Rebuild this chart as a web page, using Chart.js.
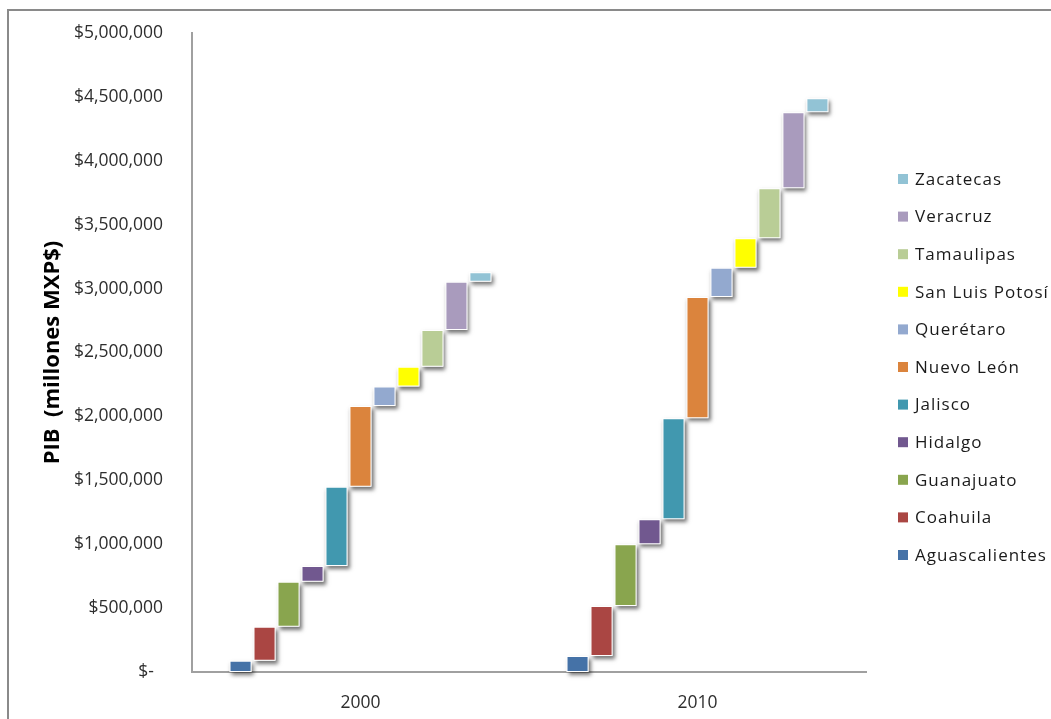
<!DOCTYPE html>
<html lang="es">
<head>
<meta charset="utf-8">
<title>PIB por estado, 2000 y 2010</title>
<script src="https://cdn.jsdelivr.net/npm/chart.js@4.4.1/dist/chart.umd.min.js"></script>
<style>
  html, body { margin: 0; padding: 0; background: #ffffff; }
  #lienzo { position: absolute; left: 0; top: 0; width: 1051px; height: 719px; }
</style>
</head>
<body>
<div id="lienzo"><canvas id="grafica" width="1051" height="719"></canvas></div>
<script>
// Años comparados
const categorias = ['2000', '2010'];

// Estados (en el orden en que se acumulan)
const estados = [
  'Aguascalientes', 'Coahuila', 'Guanajuato', 'Hidalgo', 'Jalisco',
  'Nuevo León', 'Querétaro', 'San Luis Potosí', 'Tamaulipas', 'Veracruz', 'Zacatecas'
];

// PIB de cada estado, millones de MXP$
const pib2000 = [88000, 267000, 352000, 122000, 621000, 631000, 152000, 156000, 287000, 378000, 74000];
const pib2010 = [125000, 391000, 483000, 196000, 790000, 949000, 230000, 230000, 391000, 595000, 109000];

// Color de cada estado
const colores = [
  '#4572A7', '#AA4643', '#89A54E', '#71588F', '#4198AF',
  '#DB843D', '#93A9CF', '#FFFF00', '#B9CD96', '#A99BBD', '#92C3D5'
];

// Eje Y: mínimo, máximo y paso
const ejeY = [0, 5000000, 500000];

// Cascada: cada barra empieza donde termina la anterior
function tramos(valores) {
  let acumulado = 0;
  return valores.map(v => {
    const inicio = acumulado;
    acumulado += v;
    return [inicio, acumulado];
  });
}
const tramos2000 = tramos(pib2000);
const tramos2010 = tramos(pib2010);

const datasets = estados.map((nombre, i) => ({
  label: nombre,
  data: [tramos2000[i], tramos2010[i]],
  backgroundColor: colores[i],
  borderColor: '#ffffff',
  borderWidth: 1,
  borderSkipped: false
}));

const fuente = "'Open Sans', 'DejaVu Sans', sans-serif";

// Marco gris superior e izquierdo
const marco = {
  id: 'marco',
  beforeDraw(chart) {
    const ctx = chart.ctx;
    ctx.save();
    ctx.strokeStyle = '#8a8a8a';
    ctx.lineWidth = 2;
    ctx.beginPath();
    ctx.moveTo(8, chart.height);
    ctx.lineTo(8, 10);
    ctx.lineTo(chart.width, 10);
    ctx.stroke();
    ctx.restore();
  }
};

// Sombra difusa bajo cada barra
const sombras = {
  id: 'sombras',
  beforeDatasetsDraw(chart) {
    const ctx = chart.ctx;
    ctx.save();
    ctx.shadowColor = 'rgba(0,0,0,0.55)';
    ctx.shadowBlur = 4;
    ctx.shadowOffsetX = 2;
    ctx.shadowOffsetY = 3;
    ctx.fillStyle = '#ffffff';
    chart.data.datasets.forEach((ds, i) => {
      chart.getDatasetMeta(i).data.forEach(bar => {
        const p = bar.getProps(['x', 'y', 'base', 'width'], true);
        const top = Math.min(p.y, p.base);
        const h = Math.abs(p.base - p.y);
        ctx.fillRect(p.x - p.width / 2, top, p.width, h);
      });
    });
    ctx.restore();
  }
};

// Leyenda a la derecha, de arriba (último estado) hacia abajo
const leyenda = {
  id: 'leyenda',
  afterDraw(chart, args, opts) {
    const ctx = chart.ctx;
    const area = chart.chartArea;
    const items = chart.data.datasets.map((ds, i) => ({ texto: ds.label, color: ds.backgroundColor })).reverse();
    ctx.save();
    ctx.font = '17px ' + fuente;
    ctx.letterSpacing = '1px';
    ctx.textBaseline = 'middle';
    ctx.textAlign = 'left';
    items.forEach((it, k) => {
      const yc = opts.top + k * opts.paso;
      ctx.fillStyle = it.color;
      ctx.fillRect(area.right + opts.sangria, yc - 5, 10, 10);
      ctx.fillStyle = '#1a1a1a';
      ctx.fillText(it.texto, area.right + opts.sangria + 17, yc + 1);
    });
    ctx.restore();
  }
};

new Chart(document.getElementById('grafica'), {
  type: 'bar',
  data: { labels: categorias, datasets },
  plugins: [marco, sombras, leyenda],
  options: {
    responsive: false,
    animation: false,
    layout: { padding: { left: 0, top: 33, right: 185, bottom: 0 } },
    datasets: { bar: { categoryPercentage: 0.783, barPercentage: 0.92 } },
    plugins: {
      legend: { display: false },
      tooltip: { enabled: false },
      leyenda: { top: 179, paso: 37.6, sangria: 32 }
    },
    scales: {
      x: {
        grid: { display: false },
        border: { display: true, color: '#a0a0a0', width: 2 },
        ticks: { color: '#2e2e2e', font: { family: fuente, size: 17.5 }, padding: 13 },
        afterFit(scale) { scale.height = 47; }
      },
      y: {
        min: ejeY[0],
        max: ejeY[1],
        grid: { display: false },
        border: { display: true, color: '#a0a0a0', width: 2 },
        ticks: {
          stepSize: ejeY[2],
          color: '#2e2e2e',
          padding: 21,
          font: { family: fuente, size: 17.5 },
          callback: v => v === 0 ? '$-  ' : '$' + Number(v).toLocaleString('en-US')
        },
        title: {
          display: true,
          text: 'PIB  (millones MXP$)',
          color: '#000000',
          font: { family: fuente, size: 22, weight: 'bold' },
          padding: { top: 40, bottom: 0 }
        },
        afterFit(scale) { scale.width = 192; }
      }
    }
  }
});
</script>
</body>
</html>
